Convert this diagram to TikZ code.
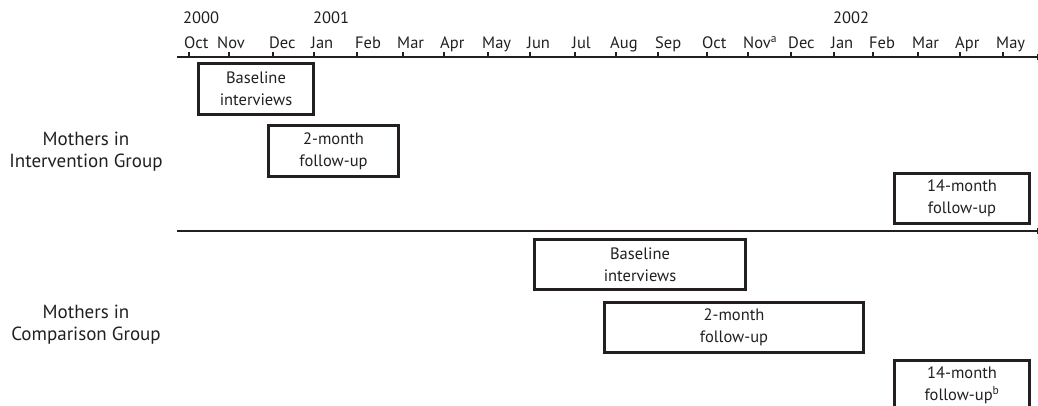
\documentclass[tikz,border=0pt]{standalone}
\usepackage{fontspec}
\setmainfont{PT Sans}
\definecolor{ink}{HTML}{231F20}
\begin{document}
\begin{tikzpicture}[x=1pt,y=-1pt,
  every node/.style={text=ink},
  lbl/.style={font=\fontsize{16.5}{18}\selectfont, inner sep=0pt, anchor=base west},
  grp/.style={font=\fontsize{19}{22}\selectfont, align=center, inner sep=0pt},
  boxn/.style={draw=ink, line width=3pt, anchor=north west, inner sep=0pt,
    align=center, font=\fontsize{16.5}{22}\selectfont},
  axis/.style={draw=ink, line width=2.2pt}]
\clip (0,0) rectangle (1038,406);
% years
\node[lbl] (y0) at (183,24) {2000};
\node[lbl] (y1) at (313,24) {2001};
\node[lbl] (y2) at (833,24) {2002};
% months
\foreach \t/\l/\m [count=\i] in {189/184/Oct,229/217/Nov,273/269/Dec,314/311/Jan,357/355/Feb,403/397/Mar,444/440/Apr,488/482/May,530/527/Jun,575/572/Jul,616/610/Aug,658/655/Sep,707/702/Oct,748/743/Nov\textsuperscript{a},791/788/Dec,834/831/Jan,873/869/Feb,918/912/Mar,960/955/Apr,1003/996/May}{
  \node[lbl] (m\i) at (\l,49) {\m};
  \draw[ink, line width=1.6pt] (\t,57) -- (\t,52);
}
% axis lines
\coordinate (a0) at (177,57);
\coordinate (a1) at (1037,57);
\draw[axis] (a0) -- (a1);
\draw[ink, line width=1pt] (1037,54) -- (1037,60);
\coordinate (s0) at (177,231);
\coordinate (s1) at (1037,231);
\draw[axis] (s0) -- (s1);
\draw[ink, line width=1pt] (1037,228) -- (1037,234);
% group labels
\node[grp] (gi) at (86,152) {Mothers in\\Intervention Group};
\node[grp] (gc) at (86,325) {Mothers in\\Comparison Group};
% intervention boxes
\node[boxn, minimum width=115pt, minimum height=51pt] (ib) at (197,62) {Baseline\\interviews};
\node[boxn, minimum width=130pt, minimum height=51pt] (i2) at (267,124) {2-month\\follow-up};
\node[boxn, minimum width=135pt, minimum height=50pt] (i14) at (893,172) {14-month\\follow-up};
% comparison boxes
\node[boxn, minimum width=211pt, minimum height=50pt] (cb) at (533,238) {Baseline\\interviews};
\node[boxn, minimum width=259pt, minimum height=50pt] (c2) at (603,301) {2-month\\follow-up};
\node[boxn, minimum width=135pt, minimum height=50pt] (c14) at (893,359) {14-month\\follow-up\textsuperscript{b}};
\end{tikzpicture}
\end{document}
